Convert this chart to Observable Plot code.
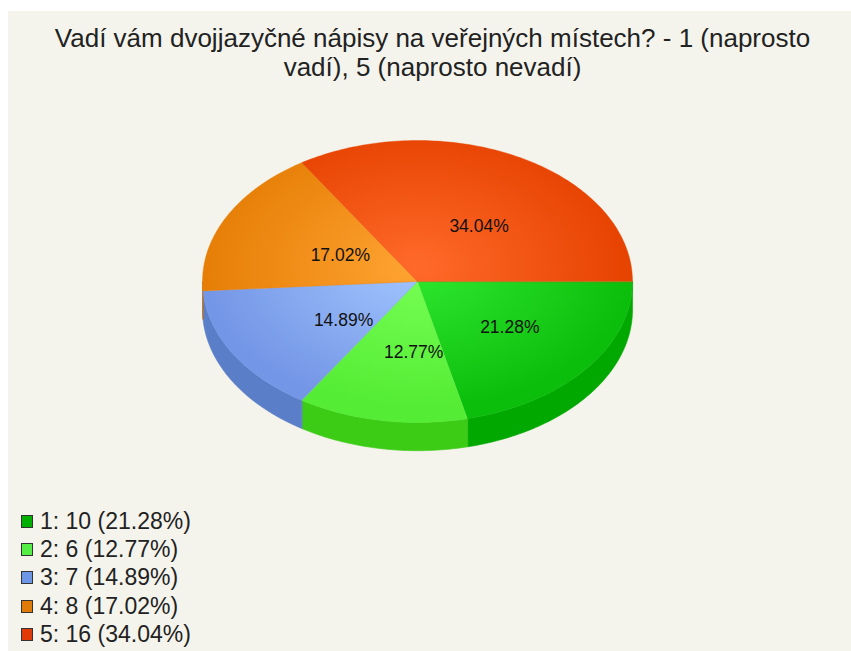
<!DOCTYPE html>
<html>
<head>
<meta charset="utf-8">
<script src="https://cdn.jsdelivr.net/npm/d3@7"></script>
<script src="https://cdn.jsdelivr.net/npm/@observablehq/plot@0.6"></script>
<style>
  html, body { margin: 0; padding: 0; background: #ffffff; }
  #frame { position: absolute; left: 8px; top: 11px; width: 843px; height: 640px; background: #f4f4ec; overflow: hidden; }
  #title { position: absolute; left: 0; top: 13px; width: 843px; text-align: center;
           font-family: "Liberation Sans", Arial, sans-serif; font-size: 26px; line-height: 29px; color: #222; padding-left: 6px; box-sizing: border-box; }
  #chart { position: absolute; left: -8px; top: 89px; }
  #legend { position: absolute; left: 13px; top: 496px; font-family: "Liberation Sans", Arial, sans-serif; font-size: 23px; color: #222; }
  .row { height: 28.3px; display: flex; align-items: center; white-space: nowrap; }
  .sw { width: 10px; height: 11px; border: 1px solid #333; margin-right: 7px; flex: none; }
</style>
</head>
<body>
<div id="frame">
  <div id="title">Vadí vám dvojjazyčné nápisy na veřejných místech? - 1 (naprosto<br>vadí), 5 (naprosto nevadí)</div>
  <div id="chart"></div>
  <div id="legend"></div>
</div>
<script>
const categories = ["1", "2", "3", "4", "5"];
const counts = [10, 6, 7, 8, 16];
const centerColors = ["#30e830", "#78ff56", "#a2c6ff", "#ffa432", "#ff6a2a"];
const edgeColors = ["#0cbe0c", "#54ec34", "#7496e6", "#e67e06", "#e64200"];
const sideColors = ["#00a800", "#3ccc16", "#5a7ec8", "#c86c00", "#c83a00"];
const legendColors = ["#00b000", "#55ee44", "#6e96e6", "#e07a08", "#e03a08"];

const total = d3.sum(counts);
const pct = counts.map(c => (100 * c / total).toFixed(2) + "%");
const ends = Array.from(d3.cumsum(counts), c => 2 * Math.PI * c / total);
const starts = [0, ...ends.slice(0, -1)];

const depth = 0.2;
const cx = 417, cy = 181, rx = 215, ry = 141;

function arc(a0, a1, dy = 0) {
  const n = Math.max(2, Math.ceil((a1 - a0) / (Math.PI / 180)));
  return d3.range(n + 1).map(k => {
    const a = a0 + (a1 - a0) * k / n;
    return {x: Math.cos(a), y: Math.sin(a) + dy};
  });
}

const sideMarks = categories.map((c, i) => {
  const a0 = Math.max(starts[i], 0), a1 = Math.min(ends[i], Math.PI);
  if (a1 <= a0) return null;
  const pts = [...arc(a0, a1), ...arc(a0, a1, depth).reverse()];
  return Plot.line(pts, {x: "x", y: "y", curve: "linear-closed", fill: sideColors[i], stroke: sideColors[i], strokeWidth: 0.6});
}).filter(Boolean);

const topMarks = categories.map((c, i) => {
  const pts = [{x: 0, y: 0}, ...arc(starts[i], ends[i])];
  return Plot.line(pts, {x: "x", y: "y", curve: "linear-closed", fill: `url(#topGrad${i})`, stroke: edgeColors[i], strokeWidth: 0.4});
});

const labels = categories.map((c, i) => {
  const m = (starts[i] + ends[i]) / 2;
  return {x: 0.47 * Math.cos(m), y: 0.48 * Math.sin(m), text: pct[i]};
});

const chart = Plot.plot({
  width: 851,
  height: 390,
  margin: 0,
  x: {domain: [-1, 1], range: [cx - rx, cx + rx], axis: null},
  y: {domain: [-1, 1], range: [cy - ry, cy + ry], axis: null},
  style: {background: "transparent", overflow: "visible"},
  marks: [
    ...sideMarks,
    ...topMarks,
    Plot.text(labels, {x: "x", y: "y", text: "text", dx: 13, dy: 4, fill: "#111", fontSize: 17.5, fontFamily: "Liberation Sans, Arial, sans-serif"})
  ]
});

const px = chart.scale("x").apply(0), py = chart.scale("y").apply(0);
const pr = chart.scale("x").apply(1) - px, prY = chart.scale("y").apply(1) - py;
const svgNS = "http://www.w3.org/2000/svg";
const defs = document.createElementNS(svgNS, "defs");
defs.innerHTML = categories.map((c, i) => `<radialGradient id="topGrad${i}" gradientUnits="userSpaceOnUse" cx="${px}" cy="${py - 15}" r="${pr}"
   gradientTransform="translate(${px},${py - 15}) scale(1,${prY / pr}) translate(${-px},${-(py - 15)})">
  <stop offset="0%" stop-color="${centerColors[i]}"/>
  <stop offset="100%" stop-color="${edgeColors[i]}"/>
</radialGradient>`).join("");
chart.insertBefore(defs, chart.firstChild);
document.getElementById("chart").appendChild(chart);

const legend = d3.select("#legend");
categories.forEach((c, i) => {
  const row = legend.append("div").attr("class", "row");
  row.append("div").attr("class", "sw").style("background", legendColors[i]);
  row.append("span").text(`${c}: ${counts[i]} (${pct[i]})`);
});
</script>
</body>
</html>
